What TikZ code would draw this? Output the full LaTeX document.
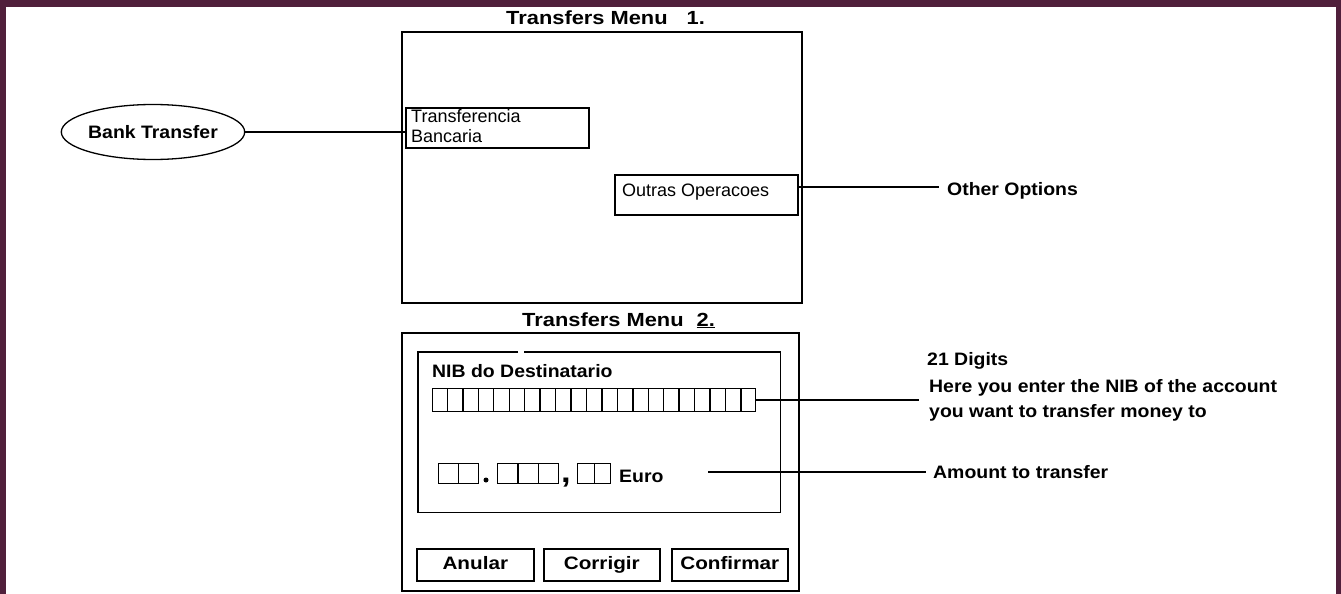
\documentclass[tikz,border=0pt]{standalone}
\usepackage{fontspec}
\setmainfont{Liberation Sans}
\newfontfamily\lbl[FakeStretch=1.08]{Liberation Sans Bold}
\newfontfamily\ttl[FakeStretch=1.15]{Liberation Sans Bold}
\usetikzlibrary{shapes.geometric,calc}
\definecolor{framec}{RGB}{80,31,59}
\begin{document}
\begin{tikzpicture}[x=1pt,y=-1pt,
  box/.style={draw, line width=1.6pt, rectangle, inner sep=0pt, anchor=north west},
  lab/.style={inner sep=0pt, font=\lbl\fontsize{18}{20}\selectfont, anchor=base west},
  ttlab/.style={inner sep=0pt, font=\ttl\fontsize{19}{20}\selectfont, anchor=base west},
  plain/.style={inner sep=0pt, font=\fontsize{18}{20}\selectfont, anchor=base west},
  btn/.style={box, minimum height=32, text height=13pt, text depth=4pt, font=\ttl\fontsize{18}{20}\selectfont},
  conn/.style={line width=1.6pt},
  cell/.style={line width=1.4pt}]
\useasboundingbox (0,0) rectangle (1341,594);
\fill[framec] (0,0) rectangle (1341,594);
\fill[white] (6,7) rectangle (1336,594);

% Menu 1
\node[ttlab] (t1) at (506,25) {Transfers Menu\hspace{19pt}1.};
\node[box, minimum width=400, minimum height=271] (m1) at (401,31) {};
\node[box, minimum width=183, minimum height=40] (tb) at (405,107) {};
\node[plain] (tb1) at (411,122) {Transferencia};
\node[plain] (tb2) at (411,142) {Bancaria};
\node[box, minimum width=183, minimum height=40] (oo) at (614,174) {};
\node[plain] (oot) at (622,196) {Outras Operacoes};

\node[draw, ellipse, line width=1.3pt, minimum width=177, minimum height=55, inner sep=0pt,
      font=\lbl\fontsize{18}{20}\selectfont] (bt) at (153,132) {Bank Transfer};
\draw[conn] (bt.east) -- (bt.east -| tb.west);

\node[lab] (ol) at (947,195) {Other Options};
\coordinate (oly) at (0,187);
\draw[conn] (oo.east |- oly) -- ([xshift=-8pt]ol.west |- oly);

% Menu 2
\node[ttlab] (t2) at (522,326) {Transfers Menu\hspace{13pt}\underline{2.}};
\node[box, minimum width=397, minimum height=258] (m2) at (401,332) {};
\node[inner sep=0pt, minimum width=362, minimum height=160, anchor=north west] (in) at (418,352) {};
\draw[line width=1.6pt] ([xshift=100pt]in.north west) -- (in.north west) -- (in.south west)
  -- (in.south east) -- (in.north east) -- ([xshift=106pt]in.north west);

\node[lab] (nibl) at (432,377) {NIB do Destinatario};
\node[box, line width=1.4pt, minimum width=323, minimum height=23] (nib) at (432,388) {};
\foreach \i in {1,...,20}
  \draw[cell] ($(nib.north west)!\i/21!(nib.north east)$) -- ($(nib.south west)!\i/21!(nib.south east)$);
\coordinate (nibend) at (919,0);
\draw[conn] (nib.east) -- (nib.east -| nibend);

\node[lab] (dig) at (927,365) {21 Digits};
\node[lab] (here1) at (929,392) {Here you enter the NIB of the account};
\node[lab] (here2) at (929,417) {you want to transfer money to};

% amount
\node[box, line width=1.4pt, minimum width=40, minimum height=20] (a1) at (438,463) {};
\draw[cell] (a1.north) -- (a1.south);
\node[circle, fill, minimum size=5pt, inner sep=0pt] (dot) at (486,480) {};
\node[box, line width=1.4pt, minimum width=61, minimum height=20] (a2) at (497,463) {};
\draw[cell] ($(a2.north west)!1/3!(a2.north east)$) -- ($(a2.south west)!1/3!(a2.south east)$);
\draw[cell] ($(a2.north west)!2/3!(a2.north east)$) -- ($(a2.south west)!2/3!(a2.south east)$);
\node[inner sep=0pt, font=\ttl\fontsize{30}{30}\selectfont, anchor=base] (comma) at (566,482) {,};
\node[box, line width=1.4pt, minimum width=33, minimum height=20] (a3) at (577,463) {};
\draw[cell] (a3.north) -- (a3.south);
\node[lab] (eur) at (619,482) {Euro};

\node[lab] (amt) at (933,478) {Amount to transfer};
\coordinate (amts) at (708,472);
\draw[conn] (amts) -- ([xshift=-7pt]amt.west |- amts);

% buttons
\node[btn, minimum width=117] (an) at (416,548) {Anular};
\node[btn, minimum width=116] (cor) at (543,548) {Corrigir};
\node[btn, minimum width=116] (conf) at (671,548) {Confirmar};
\end{tikzpicture}
\end{document}
